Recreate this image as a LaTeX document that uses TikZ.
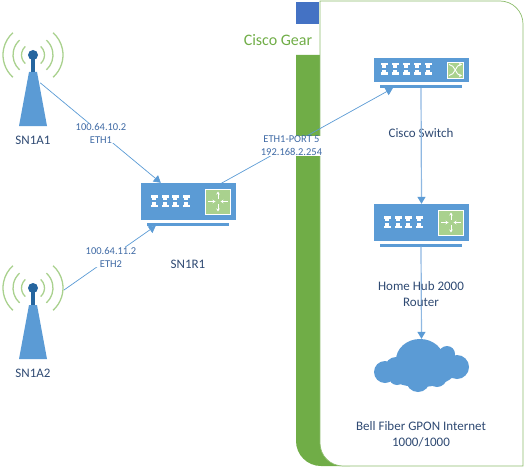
\documentclass[tikz,border=0pt]{standalone}
\usepackage{fontspec}
\setmainfont{Carlito}
\usepackage{tikz}
\usetikzlibrary{arrows.meta, positioning}
\definecolor{iconblue}{HTML}{5B9BD5}
\definecolor{mastblue}{HTML}{25659F}
\definecolor{tabblue}{HTML}{4472C4}
\definecolor{bandgreen}{HTML}{70AD47}
\definecolor{lightgreen}{HTML}{A9D18E}
\definecolor{linkblue}{HTML}{8FB8E2}
\definecolor{textnavy}{HTML}{2F4A73}
\definecolor{addrblue}{HTML}{3F6AA5}
% one column of two port glyphs
\newcommand{\portpair}[2]{
    \fill[white] (#1-3.5, #2-3) rectangle (#1+3.5, #2-0.5);
    \fill[white] (#1-2, #2-0.5) rectangle (#1+2, #2+2);
    \fill[white] (#1-2, #2+4) rectangle (#1+2, #2+6.5);
    \fill[white] (#1-3.5, #2+6.5) rectangle (#1+3.5, #2+9);
}
% four arrows of the router face
\newcommand{\routerglyph}[2]{
    \draw[glyph] (#1, #2-2.5) -- (#1, #2-10);
    \draw[glyph] (#1, #2+2.5) -- (#1, #2+10);
    \draw[glyph] (#1-10, #2) -- (#1-2.5, #2);
    \draw[glyph] (#1+10, #2) -- (#1+2.5, #2);
}
\begin{document}
\begin{tikzpicture}[
    x=1pt, y=-1pt,
    towerbox/.style={rectangle, minimum width=28pt, minimum height=54pt, inner sep=0pt},
    waves/.style={color=lightgreen, line width=1.3pt},
    devbody/.style={rectangle, fill=iconblue, inner sep=0pt, minimum width=95pt},
    devbase/.style={rectangle, fill=iconblue, inner sep=0pt, minimum width=82pt, minimum height=3pt},
    facebox/.style={rectangle, fill=lightgreen, draw=white, line width=0.7pt, inner sep=0pt},
    glyph/.style={color=white, line width=0.9pt, -{Stealth[length=3pt, width=3.5pt]}},
    link/.style={color=iconblue, line width=0.7pt, -{Triangle[length=7pt, width=8pt]}},
    trunk/.style={color=linkblue, line width=1.2pt, -{Triangle[length=7pt, width=8pt, color=iconblue]}},
    devlabel/.style={font=\fontsize{13}{16}\selectfont, color=textnavy, align=center, inner sep=0pt},
    addrlabel/.style={font=\fontsize{10.5}{13}\selectfont, color=addrblue, align=center, fill=white, inner sep=0.4pt},
]
\useasboundingbox (0, 0) rectangle (524, 468);

% Band and panel
\fill[color=bandgreen] (296, 55) -- (296, 441) arc[start angle=180, end angle=90, radius=25] -- (350, 466) -- (350, 55) -- cycle;
\fill[color=tabblue] (296, 2) rectangle (319, 24);
\draw[color=bandgreen!80, fill=white, line width=0.7pt] (320, 1) -- (500, 1) arc[start angle=-90, end angle=0, radius=23] -- (523, 466) -- (343, 466) arc[start angle=90, end angle=180, radius=23] -- cycle;
\node[font=\fontsize{16}{18}\selectfont, color=bandgreen, inner sep=0pt] (gear) at (278, 40) {Cisco Gear};

% Towers
\node[towerbox] (sn1a1) at (33, 99) {};
\fill[color=iconblue] (29, 72) -- (37, 72) -- (47, 126) -- (19, 126) -- cycle;
\fill[color=mastblue] (31, 58) rectangle (35, 72);
\fill[color=mastblue] (33, 55) circle[radius=5];
\draw[waves] (33, 55) ++(48:11.5) arc[start angle=48, end angle=-48, radius=11.5];
\draw[waves] (33, 55) ++(48:20) arc[start angle=48, end angle=-48, radius=20];
\draw[waves] (33, 55) ++(48:30) arc[start angle=48, end angle=-48, radius=30];
\draw[waves] (33, 55) ++(132:11.5) arc[start angle=132, end angle=228, radius=11.5];
\draw[waves] (33, 55) ++(132:20) arc[start angle=132, end angle=228, radius=20];
\draw[waves] (33, 55) ++(132:30) arc[start angle=132, end angle=228, radius=30];
\node[devlabel, below=9.5pt of sn1a1] (sn1a1text) {SN1A1};

\node[towerbox] (sn1a2) at (33, 332) {};
\fill[color=iconblue] (29, 305) -- (37, 305) -- (47, 359) -- (19, 359) -- cycle;
\fill[color=mastblue] (31, 291) rectangle (35, 305);
\fill[color=mastblue] (33, 288) circle[radius=5];
\draw[waves] (33, 288) ++(48:11.5) arc[start angle=48, end angle=-48, radius=11.5];
\draw[waves] (33, 288) ++(48:20) arc[start angle=48, end angle=-48, radius=20];
\draw[waves] (33, 288) ++(48:30) arc[start angle=48, end angle=-48, radius=30];
\draw[waves] (33, 288) ++(132:11.5) arc[start angle=132, end angle=228, radius=11.5];
\draw[waves] (33, 288) ++(132:20) arc[start angle=132, end angle=228, radius=20];
\draw[waves] (33, 288) ++(132:30) arc[start angle=132, end angle=228, radius=30];
\node[devlabel, below=9.5pt of sn1a2] (sn1a2text) {SN1A2};
\coordinate (sn1a2out) at (64, 290);

% Router SN1R1
\node[devbody, minimum height=37pt] (sn1r1) at (188.5, 201.5) {};
\node[devbase] (sn1r1base) at (188, 224) {};
\foreach \px in {154, 165, 175, 186} {\portpair{\px}{198}}
\node[devlabel] (sn1r1text) at (188, 264) {SN1R1};

% Switch
\node[devbody, minimum height=24pt] (cisco) at (421.5, 70) {};
\node[devbase] (ciscobase) at (421, 86.5) {};
\foreach \px in {384, 395, 406, 417, 428} {\portpair{\px}{66}}
\node[facebox, minimum size=16pt] (ciscoface) at (455.5, 70) {};
\draw[glyph] (449, 64.5) .. controls (455, 64.5) and (456, 75.5) .. (462, 75.5);
\draw[glyph] (449, 75.5) .. controls (455, 75.5) and (456, 64.5) .. (462, 64.5);
\node[devlabel] (ciscotext) at (421, 133) {Cisco Switch};

% Home hub
\node[devbody, minimum height=37pt] (hub) at (421.5, 222.5) {};
\node[devbase] (hubbase) at (421, 245) {};
\foreach \px in {387, 398, 408, 419} {\portpair{\px}{219}}

% Cloud
\fill[color=iconblue] (385, 372) circle[radius=11] (420, 360) ellipse[x radius=24, y radius=21] (447, 354) circle[radius=8] (457, 367) circle[radius=12] (418, 380) circle[radius=12] (397, 377) circle[radius=8] (437, 377) circle[radius=10] (420, 370) ellipse[x radius=36, y radius=17] (396, 368) circle[radius=11];
\node[minimum width=95pt, minimum height=53pt, inner sep=0pt] (fibre) at (421.5, 365.5) {};

% Links
\draw[link] ([xshift=-7pt, yshift=-11pt]sn1a1.north east) -- ([xshift=20pt]sn1r1.north west);
\draw[link] (sn1a2out) -- ([xshift=9pt]sn1r1base.south west);
\draw[link] (sn1r1.center) -- ([xshift=13pt]ciscobase.south west);
\draw[trunk] (ciscobase.south) -- (hub.north);
\draw[trunk] (hubbase.south) -- (fibre.north);

% Router faces go over the link
\node[facebox, minimum size=25pt] (sn1r1face) at (218, 201.5) {};
\routerglyph{218}{201.5}
\node[facebox, minimum size=25pt] (hubface) at (451, 222.5) {};
\routerglyph{451}{222.5}

% Labels
\node[devlabel] (hubtext) at (421, 294) {Home Hub 2000\\Router};
\node[devlabel] (fibretext) at (421, 434) {Bell Fiber GPON Internet\\1000/1000};
\node[addrlabel] (eth1) at (101, 133) {100.64.10.2\\ETH1};
\node[addrlabel] (eth2) at (111, 257) {100.64.11.2\\ETH2};
\node[addrlabel] (port5) at (291.5, 146) {ETH1-PORT 5\\192.168.2.254};

\end{tikzpicture}
\end{document}
